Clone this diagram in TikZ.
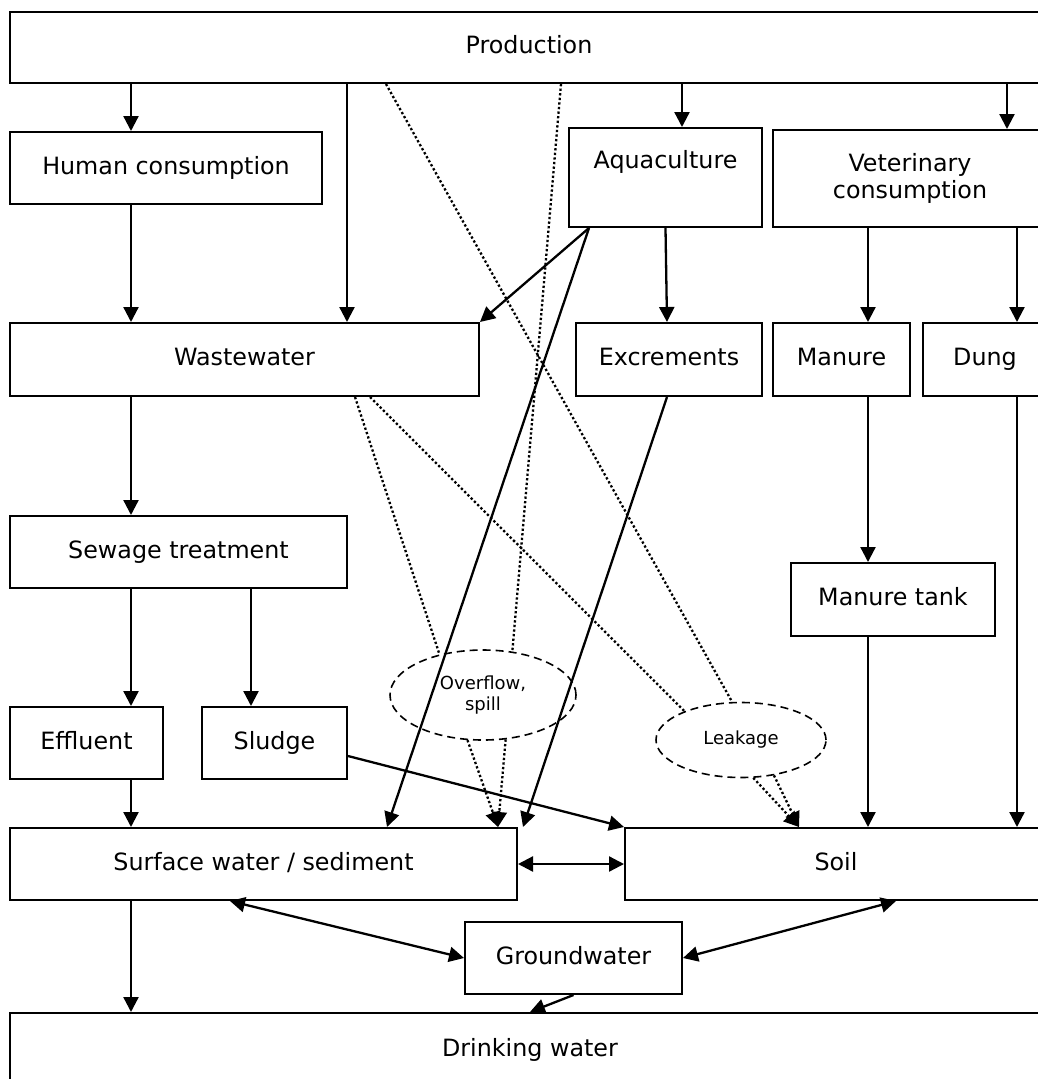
\documentclass[tikz,border=0pt]{standalone}
\usepackage{fontspec}
\setmainfont{DejaVu Sans}
\usetikzlibrary{arrows.meta,shapes.geometric}
\begin{document}
\begin{tikzpicture}[x=1pt,y=-1pt,
  box/.style={draw,line width=2pt,inner sep=0pt,font=\fontsize{23.8}{27}\selectfont,align=center},
  box1/.style={box,text height=17pt,text depth=5pt},
  oval/.style={ellipse,draw,line width=1.6pt,dash pattern=on 8pt off 5pt,inner sep=0pt,font=\fontsize{18}{21}\selectfont,align=center},
  arr/.style={line width=2.3pt,-{Triangle[length=15pt,width=15pt]}},
  both/.style={line width=2.3pt,{Triangle[length=15pt,width=15pt]}-{Triangle[length=15pt,width=15pt]}},
  dots/.style={line width=2.3pt,dash pattern=on 2.3pt off 2.3pt},
]
\useasboundingbox (0,0) rectangle (1038,1079);
\clip (0,0) rectangle (1038,1079);

% boxes
\node[box1,minimum width=1038,minimum height=71] (prod) at (529,47.5) {Production};
\node[box1,minimum width=312,minimum height=72] (hum) at (166,168) {Human consumption};
\node[box,minimum width=193,minimum height=99] (aqua) at (665.5,177.5) {Aquaculture\\\strut};
\node[box,minimum width=274,minimum height=97] (vet) at (910,178.5) {Veterinary\\consumption};
\node[box1,minimum width=469,minimum height=73] (waste) at (244.5,359.5) {Wastewater};
\node[box1,minimum width=186,minimum height=73] (excr) at (669,359.5) {Excrements};
\node[box1,minimum width=137,minimum height=73] (man) at (841.5,359.5) {Manure};
\node[box1,minimum width=124,minimum height=73] (dung) at (985,359.5) {Dung};
\node[box1,minimum width=337,minimum height=72] (sew) at (178.5,552) {Sewage treatment};
\node[box1,minimum width=204,minimum height=73] (tank) at (893,599.5) {Manure tank};
\node[box1,minimum width=153,minimum height=72] (eff) at (86.5,743) {Effluent};
\node[box1,minimum width=145,minimum height=72] (sludge) at (274.5,743) {Sludge};
\node[oval,minimum width=186,minimum height=90] (over) at (483,695) {Overflow,\\spill};
\node[oval,minimum width=170,minimum height=75] (leak) at (741,740) {Leakage};
\node[box1,minimum width=507,minimum height=72] (surf) at (263.5,864) {Surface water / sediment};
\node[box1,minimum width=422,minimum height=72] (soil) at (836,864) {Soil};
\node[box1,minimum width=217,minimum height=72] (ground) at (573.5,958) {Groundwater};
\node[box1,minimum width=1040,minimum height=74] (drink) at (530,1050) {Drinking water};

% column coordinates
\coordinate (cA) at (131,0);
\coordinate (cB) at (347,0);
\coordinate (cS) at (251,0);
\coordinate (cC) at (682,0);
\coordinate (cD) at (1007,0);
\coordinate (cE) at (868,0);
\coordinate (cF) at (1017,0);
\coordinate (aqout) at ([xshift=21pt]aqua.south west);

% solid arrows
\draw[arr] (cA |- prod.south) -- (cA |- hum.north);
\draw[arr] (cB |- prod.south) -- (cB |- waste.north);
\draw[arr] (cC |- prod.south) -- (cC |- aqua.north);
\draw[arr] (cD |- prod.south) -- (cD |- vet.north);
\draw[arr] (cA |- hum.south) -- (cA |- waste.north);
\draw[arr] (aqua.south) -- ([xshift=-2pt]excr.north);
\draw[arr] (aqout) -- (waste.north east);
\draw[arr] (aqout) -- ([xshift=123.5pt]surf.north);
\draw[arr] (cE |- vet.south) -- (cE |- man.north);
\draw[arr] (cF |- vet.south) -- (cF |- dung.north);
\draw[arr] (cE |- man.south) -- (cE |- tank.north);
\draw[arr] (cE |- tank.south) -- (cE |- soil.north);
\draw[arr] (cF |- dung.south) -- (cF |- soil.north);
\draw[arr] (cA |- waste.south) -- (cA |- sew.north);
\draw[arr] (cA |- sew.south) -- (cA |- eff.north);
\draw[arr] (cS |- sew.south) -- (cS |- sludge.north);
\draw[arr] (cA |- eff.south) -- (cA |- surf.north);
\draw[arr] (cA |- surf.south) -- (cA |- drink.north);
\draw[arr] ([xshift=-2pt]excr.south) -- ([xshift=5pt]surf.north east);
\draw[arr] ([yshift=-13pt]sludge.east) -- (soil.north west);
\draw[both] (surf.east) -- (soil.west);
\draw[both] ([xshift=-33.5pt]surf.south) -- (ground.west);
\draw[both] (ground.east) -- ([xshift=60pt]soil.south);
\draw[arr] (ground.south) -- (drink.north);

% dotted connectors
\draw[dots] ([xshift=377pt]prod.south west) -- ([xshift=-9pt]leak.north);
\draw[dots] ([xshift=552pt]prod.south west) -- (over.56);
\draw[dots] ([xshift=110.5pt]waste.south) -- (over.137);
\draw[dots] ([xshift=125.5pt]waste.south) -- (leak.153);
\draw[dots,arr] (over.-109) -- ([xshift=-20pt]surf.north east);
\draw[dots,arr] (over.-63) -- ([xshift=-20pt]surf.north east);
\draw[dots,arr] (leak.-72) -- ([xshift=175pt]soil.north west);
\draw[dots,arr] (leak.-47) -- ([xshift=175pt]soil.north west);
\end{tikzpicture}
\end{document}
